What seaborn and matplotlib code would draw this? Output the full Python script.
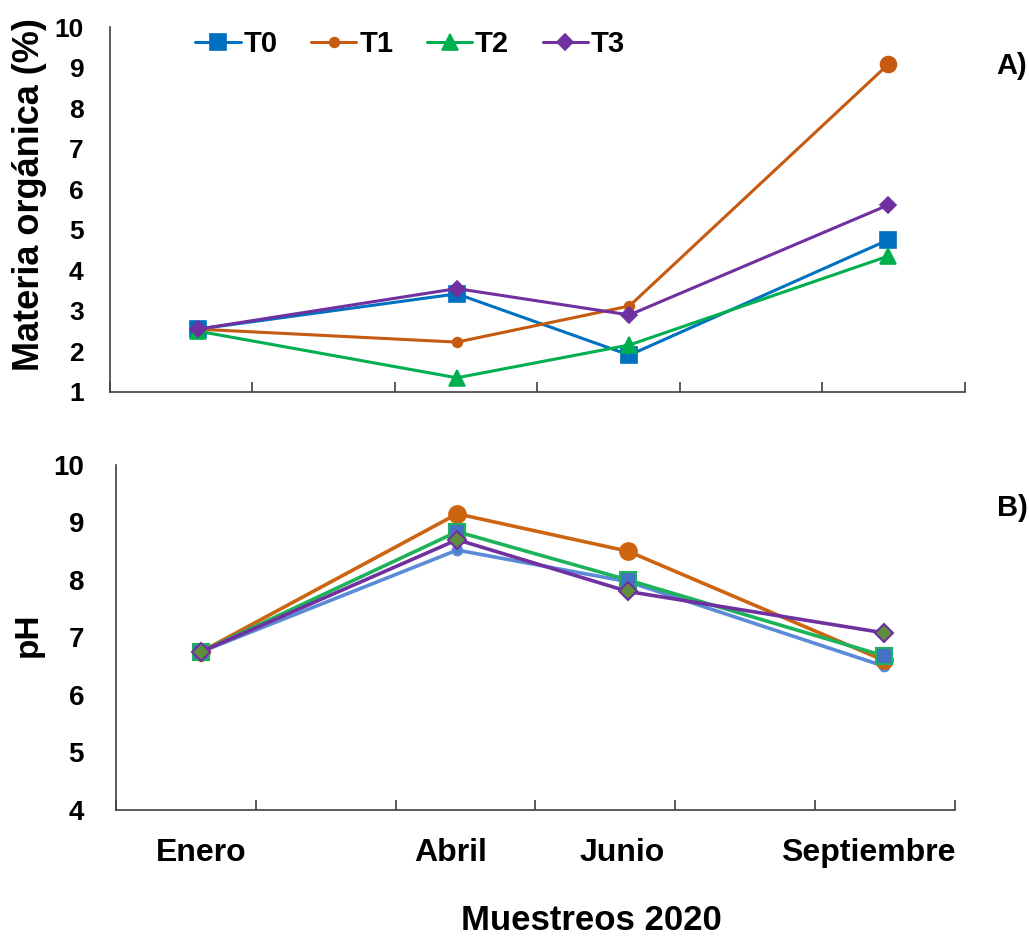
"""Materia organica y pH por muestreo (2020)
"""
import numpy as np
import pandas as pd
import seaborn as sns
import matplotlib.pyplot as plt
from matplotlib.transforms import ScaledTranslation

months = [1, 4, 6, 9]
month_labels = ["Enero", "Abril", "Junio", "Septiembre"]
treatments = ["T0", "T1", "T2", "T3"]

# materia organica (%)
mo_t0 = [2.55, 3.42, 1.91, 4.75]
mo_t1 = [2.55, 2.23, 3.12, 9.08]
mo_t2 = [2.50, 1.35, 2.16, 4.35]
mo_t3 = [2.55, 3.55, 2.90, 5.61]

# pH
ph_t0 = [6.75, 8.52, 7.97, 6.50]
ph_t1 = [6.75, 9.15, 8.50, 6.60]
ph_t2 = [6.75, 8.84, 8.00, 6.68]
ph_t3 = [6.75, 8.70, 7.80, 7.08]


def long_df(series):
    return pd.concat([pd.DataFrame({"mes": months, "valor": v, "trat": t})
                      for t, v in zip(treatments, series)], ignore_index=True)


mo = long_df([mo_t0, mo_t1, mo_t2, mo_t3])
ph = long_df([ph_t0, ph_t1, ph_t2, ph_t3])

sns.set_theme(style="white")
plt.rcParams["font.family"] = ["Liberation Sans", "DejaVu Sans"]
plt.rcParams["font.weight"] = "bold"
plt.rcParams["text.color"] = "black"
plt.rcParams["xtick.color"] = "black"
plt.rcParams["ytick.color"] = "black"

TOP = {
    "T0": dict(color="#0070C0", marker="s", markersize=11, markerfacecolor="#0070C0", markeredgecolor="#0070C0"),
    "T1": dict(color="#C55A11", marker="o", markersize=7, markerfacecolor="#C55A11", markeredgecolor="#C55A11"),
    "T2": dict(color="#00B050", marker="^", markersize=12, markerfacecolor="#00B050", markeredgecolor="#00B050"),
    "T3": dict(color="#7030A0", marker="D", markersize=8, markerfacecolor="#7030A0", markeredgecolor="#7030A0"),
}
BOTTOM = {
    "T0": dict(color="#5B8BD6", marker="o", markersize=7, markerfacecolor="#4F7FD0", markeredgecolor="#5B8BD6"),
    "T1": dict(color="#CC6410", marker="o", markersize=12, markerfacecolor="#CC6410", markeredgecolor="#CC6410"),
    "T2": dict(color="#1DB35A", marker="s", markersize=12, markerfacecolor="#4472C4", markeredgecolor="#1DB35A"),
    "T3": dict(color="#7030A0", marker="D", markersize=9, markerfacecolor="#5E8E3A", markeredgecolor="#7030A0"),
}

fig = plt.figure(figsize=(10.29, 9.38), dpi=100)
ax1 = fig.add_axes([0.1069, 0.5821, 0.8309, 0.3891])
ax2 = fig.add_axes([0.1127, 0.1365, 0.8154, 0.3678])

for t in treatments:
    sns.lineplot(data=mo[mo.trat == t], x="mes", y="valor", ax=ax1,
                 linewidth=2.2, markeredgewidth=1.2, errorbar=None,
                 legend=False, label=t, **TOP[t])
    sns.lineplot(data=ph[ph.trat == t], x="mes", y="valor", ax=ax2,
                 linewidth=2.6, markeredgewidth=1.5, errorbar=None,
                 legend=False, **BOTTOM[t])

# last T1 point is drawn bigger in the top panel
sns.scatterplot(x=[months[-1]], y=[mo_t1[-1]], ax=ax1, color="#C55A11",
                s=160, linewidth=0, legend=False, zorder=5)

handles = [l for l in ax1.lines if l.get_label() in treatments]
ax1.legend(handles=handles, labels=treatments, ncol=4, loc="center left",
           bbox_to_anchor=(0.1, 0.953), frameon=False, borderpad=0,
           borderaxespad=0, handlelength=1.55, handletextpad=0.1,
           columnspacing=1.15, prop=dict(size=21, weight="bold"))

for ax, xmin, xmax in [(ax1, -0.02, 9.89), (ax2, 0.004, 9.83)]:
    ax.set_xlim(xmin, xmax)
    ax.set_xticks(np.linspace(xmin, xmax, 7), labels=[""] * 7)
    ax.tick_params(axis="x", which="major", direction="in", length=7,
                   width=1.2, color="#404040", bottom=True)
    ax.set_xlabel("")
    ax.set_ylabel("")
    sns.despine(ax=ax)
    for s in ("left", "bottom"):
        ax.spines[s].set_color("#404040")
        ax.spines[s].set_linewidth(1.2)

ax1.set_ylim(1, 10)
ax1.set_yticks(range(1, 11))
ax1.tick_params(axis="y", length=0, pad=19, labelsize=19)

ax2.set_ylim(4, 10)
ax2.set_yticks(range(4, 11))
ax2.tick_params(axis="y", length=0, pad=23, labelsize=20)
ax2.set_xticks(months, labels=month_labels, minor=True)
ax2.tick_params(axis="x", which="minor", length=0, pad=20, labelsize=23)

# month labels sit a little left of their points in the original
for lab, dx in zip(ax2.get_xticklabels(minor=True), [0, -7, -6, -16]):
    lab.set_transform(lab.get_transform() + ScaledTranslation(dx / 100, 0, fig.dpi_scale_trans))

fig.text(30 / 1029, 1 - 195 / 938, "Materia orgánica (%)", rotation=90,
         ha="center", va="center", fontsize=26, fontweight="bold")
fig.text(28 / 1029, 1 - 635 / 938, "pH", rotation=90,
         ha="center", va="center", fontsize=24, fontweight="bold")
fig.text(591 / 1029, 1 - 920 / 938, "Muestreos 2020",
         ha="center", va="center", fontsize=25, fontweight="bold")
fig.text(1012 / 1029, 1 - 66 / 938, "A)", ha="center", va="center",
         fontsize=21, fontweight="bold")
fig.text(1012 / 1029, 1 - 508 / 938, "B)", ha="center", va="center",
         fontsize=21, fontweight="bold")

plt.savefig("out.png", dpi=100)
plt.close()
